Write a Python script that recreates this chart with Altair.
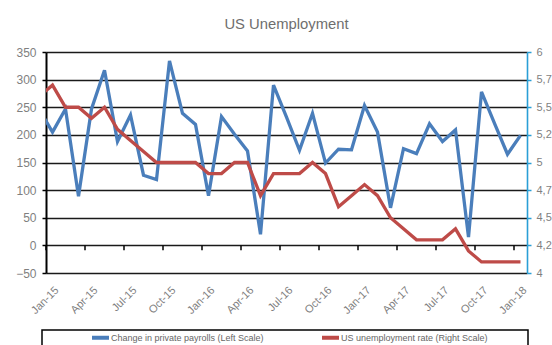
import altair as alt
import pandas as pd

# ---- data (Dec-14 is the clipped lead-in point at the left edge) ----
months = ["Dec-14",
          "Jan-15", "Feb-15", "Mar-15", "Apr-15", "May-15", "Jun-15", "Jul-15", "Aug-15", "Sep-15", "Oct-15", "Nov-15", "Dec-15",
          "Jan-16", "Feb-16", "Mar-16", "Apr-16", "May-16", "Jun-16", "Jul-16", "Aug-16", "Sep-16", "Oct-16", "Nov-16", "Dec-16",
          "Jan-17", "Feb-17", "Mar-17", "Apr-17", "May-17", "Jun-17", "Jul-17", "Aug-17", "Sep-17", "Oct-17", "Nov-17", "Dec-17",
          "Jan-18"]
payrolls = [245,
            205, 247, 89, 247, 317, 188, 236, 127, 119, 334, 239, 219,
            90, 233, 201, 171, 20, 290, 232, 172, 239, 149, 174, 173,
            253, 205, 68, 175, 166, 220, 188, 209, 15, 278, 221, 165,
            199]
unemployment = [5.6,
                5.7, 5.5, 5.5, 5.4, 5.5, 5.3, 5.2, 5.1, 5.0, 5.0, 5.0, 5.0,
                4.9, 4.9, 5.0, 5.0, 4.7, 4.9, 4.9, 4.9, 5.0, 4.9, 4.6, 4.7,
                4.8, 4.7, 4.5, 4.4, 4.3, 4.3, 4.3, 4.4, 4.2, 4.1, 4.1, 4.1,
                4.1]
left_ticks = [-50, 0, 50, 100, 150, 200, 250, 300, 350]
right_ticks = [4, 4.25, 4.5, 4.75, 5, 5.25, 5.5, 5.75, 6]
series_names = ["Change in private payrolls (Left Scale)", "US unemployment rate (Right Scale)"]
series_colors = ["#4a7ebb", "#be4b48"]

FONT = "Liberation Sans"
idx = list(range(len(months)))
label_idx = [i for i in idx if i >= 1 and (i - 1) % 3 == 0]
label_txt = [months[i] for i in label_idx]
tick_pos = [i - 0.5 for i in label_idx]

df = pd.DataFrame({"i": idx, "month": months, "payrolls": payrolls, "rate": unemployment})
df_b = df.assign(series=series_names[0])
df_r = df.assign(series=series_names[1])
ticks_df = pd.DataFrame({"t": tick_pos, "top": 0, "bot": -9})
box_df = pd.DataFrame({"box": [0]})

label_expr = "[" + ",".join("'%s'" % s for s in label_txt) + "][(datum.value-1)/3]"

xscale = alt.Scale(domain=[0.5, len(months) - 0.5], nice=False, zero=False)
xaxis = alt.Axis(values=label_idx, labelExpr=label_expr, labelAngle=-45, labelAlign="right",
                 labelBaseline="top", labelFontSize=11, labelColor="#7f7f7f", labelFont=FONT,
                 labelPadding=11, labelOverlap=False, domain=False, ticks=False, tickSize=0,
                 grid=False, title=None)

color = alt.Color("series:N",
                  scale=alt.Scale(domain=series_names, range=series_colors),
                  legend=alt.Legend(orient="none", legendX=44, legendY=275, direction="horizontal",
                                    title=None, symbolType="stroke", symbolStrokeWidth=4,
                                    symbolSize=289, labelFontSize=9, labelColor="#666666",
                                    labelFont=FONT, labelOffset=0, columnPadding=50, padding=0))

lscale = alt.Scale(domain=[-50, 350], nice=False, zero=False)
laxis = alt.Axis(values=left_ticks, title=None, domainColor="black", domainWidth=2,
                 tickColor="black", tickSize=4, tickWidth=1.5, labelColor="#7f7f7f",
                 labelFontSize=12, labelFont=FONT, labelPadding=6, labelOverlap=False, grid=True,
                 gridColor="#1a1a1a", gridWidth=1.4, gridOpacity=1)

blue = alt.Chart(df_b).mark_line(strokeWidth=3.3, clip=True).encode(
    x=alt.X("i:Q", scale=xscale, axis=xaxis),
    y=alt.Y("payrolls:Q", scale=lscale, axis=laxis),
    color=color,
)

ticks = alt.Chart(ticks_df).mark_rule(color="black", strokeWidth=1.5).encode(
    x=alt.X("t:Q", scale=xscale, axis=None),
    y=alt.Y("top:Q", scale=lscale, axis=None),
    y2="bot:Q",
)

box = alt.Chart(box_df).mark_rect(fillOpacity=0, stroke="black", strokeWidth=1.5).encode(
    x=alt.value(-4), x2=alt.value(482), y=alt.value(278), y2=alt.value(320),
)

rscale = alt.Scale(domain=[4, 6], nice=False, zero=False)
raxis = alt.Axis(orient="right", values=right_ticks, title=None, domainColor="#2a9fd6",
                 domainWidth=1.6, tickColor="#2a9fd6", tickSize=4, tickWidth=1.5,
                 labelColor="#7f7f7f", labelFontSize=11, labelFont=FONT, labelPadding=5,
                 labelOverlap=False,
                 labelExpr="slice(replace(format(datum.value, '.2~f'), '.', ','), 0, 3)", grid=False)

red = alt.Chart(df_r).mark_line(strokeWidth=3.3, clip=True).encode(
    x=alt.X("i:Q", scale=xscale, axis=None),
    y=alt.Y("rate:Q", scale=rscale, axis=raxis),
    color=color,
)

left = alt.layer(blue, ticks, box).resolve_axis(x="independent", y="independent")
chart = alt.layer(left, red).resolve_scale(y="independent").resolve_axis(x="independent").properties(
    width=481, height=221,
    autosize=alt.AutoSizeParams(type="none"),
    padding={"left": 46, "top": 52, "right": 25, "bottom": 72},
    title=alt.TitleParams("US Unemployment", fontSize=14.8, color="#6e6e6e", font=FONT,
                          fontWeight="normal", anchor="middle", offset=2, baseline="alphabetic"),
).configure_view(stroke="#8c8c8c", strokeWidth=2).configure(font=FONT, background="white")

chart.save("out.html", embed_options={"renderer": "svg", "actions": False})
